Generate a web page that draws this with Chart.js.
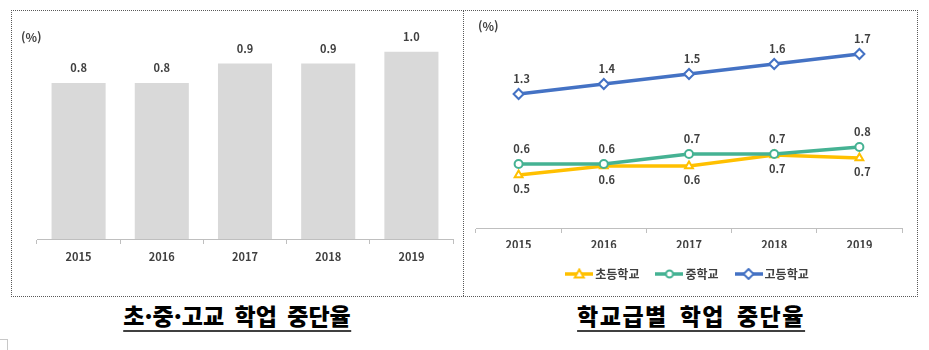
<!DOCTYPE html>
<html lang="ko">
<head>
  <meta charset="UTF-8">
  <title>학업 중단율</title>
  <script src="https://cdn.jsdelivr.net/npm/chart.js"></script>
  <style>
    body {
      margin: 0;
      width: 929px;
      height: 350px;
      background: #fff;
      font-family: "Noto Sans CJK KR", sans-serif;
      position: relative;
      overflow: hidden;
    }
    .box {
      position: absolute;
      left: 11px;
      top: 10px;
      width: 905px;
      height: 285px;
      border: 1px dotted #595959;
    }
    .divider {
      position: absolute;
      left: 463px;
      top: 10px;
      width: 0;
      height: 286px;
      border-left: 1px dotted #595959;
    }
    .unit {
      position: absolute;
      font-size: 12px;
      font-weight: bold;
      color: #404040;
    }
    .title {
      position: absolute;
      top: 300px;
      font-size: 23px;
      font-weight: 900;
      color: #000;
      white-space: nowrap;
      line-height: 30px;
      border-bottom: 2px solid #404040;
      transform: translateX(-50%);
      word-spacing: 4px;
    }
    .corner {
      position: absolute;
      left: 0;
      top: 339px;
      width: 7px;
      height: 11px;
      border-top: 1px solid #c8c8c8;
      border-right: 1px solid #c8c8c8;
    }
    #barWrap { position: absolute; left: 12px; top: 11px; width: 451px; height: 284px; }
    #lineWrap { position: absolute; left: 464px; top: 11px; width: 452px; height: 284px; }
  </style>
</head>
<body>
  <div class="box"></div>
  <div class="divider"></div>
  <div id="barWrap"><canvas id="barChart"></canvas></div>
  <div id="lineWrap"><canvas id="lineChart"></canvas></div>
  <div class="unit" style="left:21px; top:28px;">(%)</div>
  <div class="unit" style="left:478px; top:17px;">(%)</div>
  <div class="title" style="left:237px;">초·중·고교 학업 중단율</div>
  <div class="title" style="left:691px; letter-spacing:1.5px;">학교급별 학업 중단율</div>
  <div class="corner"></div>

  <script>
    // data
    const years = ['2015', '2016', '2017', '2018', '2019'];
    const totalRate = [0.8, 0.8, 0.9, 0.9, 0.96];
    const elementaryRate = [0.49, 0.58, 0.58, 0.69, 0.66];
    const middleRate = [0.6, 0.6, 0.7, 0.7, 0.77];
    const highRate = [1.3, 1.4, 1.5, 1.6, 1.7];

    const FONT = '"Noto Sans CJK KR", sans-serif';
    const TEXT = '#404040';
    const AXIS = '#bfbfbf';

    // value labels drawn at each element
    const valueLabels = {
      id: 'valueLabels',
      afterDatasetsDraw(chart) {
        const ctx = chart.ctx;
        ctx.save();
        ctx.font = 'bold 11px ' + FONT;
        ctx.fillStyle = TEXT;
        ctx.textAlign = 'center';
        ctx.textBaseline = 'middle';
        chart.data.datasets.forEach(function(ds, i) {
          const meta = chart.getDatasetMeta(i);
          meta.data.forEach(function(el, j) {
            ctx.fillText(ds.data[j].toFixed(1), el.x + (ds.labelDx || 0), el.y + ds.labelDy);
          });
        });
        ctx.restore();
      }
    };

    function xAxis(height, pad) {
      return {
        offset: true,
        grid: { offset: true, drawOnChartArea: false, drawTicks: true, tickLength: 5, color: AXIS },
        border: { display: true, color: AXIS, width: 1 },
        ticks: { color: TEXT, font: { family: FONT, size: 11, weight: 'bold' }, padding: pad, maxRotation: 0 },
        afterFit: function(scale) { scale.height = height; }
      };
    }

    new Chart(document.getElementById('barChart'), {
      type: 'bar',
      data: {
        labels: years,
        datasets: [{
          data: totalRate,
          backgroundColor: '#d9d9d9',
          categoryPercentage: 1,
          barPercentage: 0.65,
          labelDy: -15
        }]
      },
      options: {
        responsive: true,
        maintainAspectRatio: false,
        animation: false,
        layout: { padding: { left: 25, right: 10, top: 33, bottom: 26 } },
        plugins: { legend: { display: false }, tooltip: { enabled: false } },
        scales: {
          x: xAxis(30, 6),
          y: { display: false, min: 0, max: 1.0 }
        }
      },
      plugins: [valueLabels]
    });

    // legend swatch: line with marker
    function swatch(color, style) {
      const c = document.createElement('canvas');
      c.width = 28;
      c.height = 12;
      const g = c.getContext('2d');
      g.strokeStyle = color;
      g.lineWidth = 3.5;
      g.beginPath();
      g.moveTo(0, 6);
      g.lineTo(28, 6);
      g.stroke();
      g.fillStyle = '#fff';
      g.lineWidth = 2;
      g.beginPath();
      if (style === 'circle') {
        g.arc(14, 6, 3.5, 0, Math.PI * 2);
      } else if (style === 'triangle') {
        g.moveTo(14, 1.5); g.lineTo(18.5, 9.5); g.lineTo(9.5, 9.5); g.closePath();
      } else {
        g.moveTo(14, 1); g.lineTo(19, 6); g.lineTo(14, 11); g.lineTo(9, 6); g.closePath();
      }
      g.fill();
      g.stroke();
      return c;
    }

    const lineSeries = [
      { label: '초등학교', data: elementaryRate, color: '#ffc000', style: 'triangle', radius: 4.5, dy: 14, order: 3 },
      { label: '중학교', data: middleRate, color: '#45b293', style: 'circle', radius: 4, dy: -15, order: 2 },
      { label: '고등학교', data: highRate, color: '#4472c4', style: 'rectRot', radius: 5, dy: -15, order: 1 }
    ];

    new Chart(document.getElementById('lineChart'), {
      type: 'line',
      data: {
        labels: years,
        datasets: lineSeries.map(function(s) {
          return {
            label: s.label,
            data: s.data,
            borderColor: s.color,
            backgroundColor: '#fff',
            borderWidth: 3.5,
            pointStyle: s.style,
            pointRadius: s.radius,
            pointBorderWidth: 2,
            pointBorderColor: s.color,
            pointBackgroundColor: '#fff',
            tension: 0,
            order: s.order,
            labelDy: s.dy,
            labelDx: 3
          };
        })
      },
      options: {
        responsive: true,
        maintainAspectRatio: false,
        animation: false,
        layout: { autoPadding: false, padding: { left: 12, right: 14, top: 17, bottom: 5 } },
        plugins: {
          tooltip: { enabled: false },
          legend: {
            position: 'bottom',
            labels: {
              usePointStyle: true,
              pointStyleWidth: 20,
              padding: 20,
              color: TEXT,
              font: { family: FONT, size: 12, weight: 'bold' },
              generateLabels: function() {
                return lineSeries.map(function(s, i) {
                  return {
                    text: s.label,
                    datasetIndex: i,
                    fontColor: TEXT,
                    pointStyle: swatch(s.color, s.style),
                    hidden: false,
                    lineWidth: 0,
                    strokeStyle: s.color,
                    fillStyle: s.color
                  };
                });
              }
            }
          }
        },
        scales: {
          x: xAxis(20, 5),
          y: { display: false, min: -0.04, max: 1.96 }
        }
      },
      plugins: [valueLabels]
    });
  </script>
</body>
</html>
